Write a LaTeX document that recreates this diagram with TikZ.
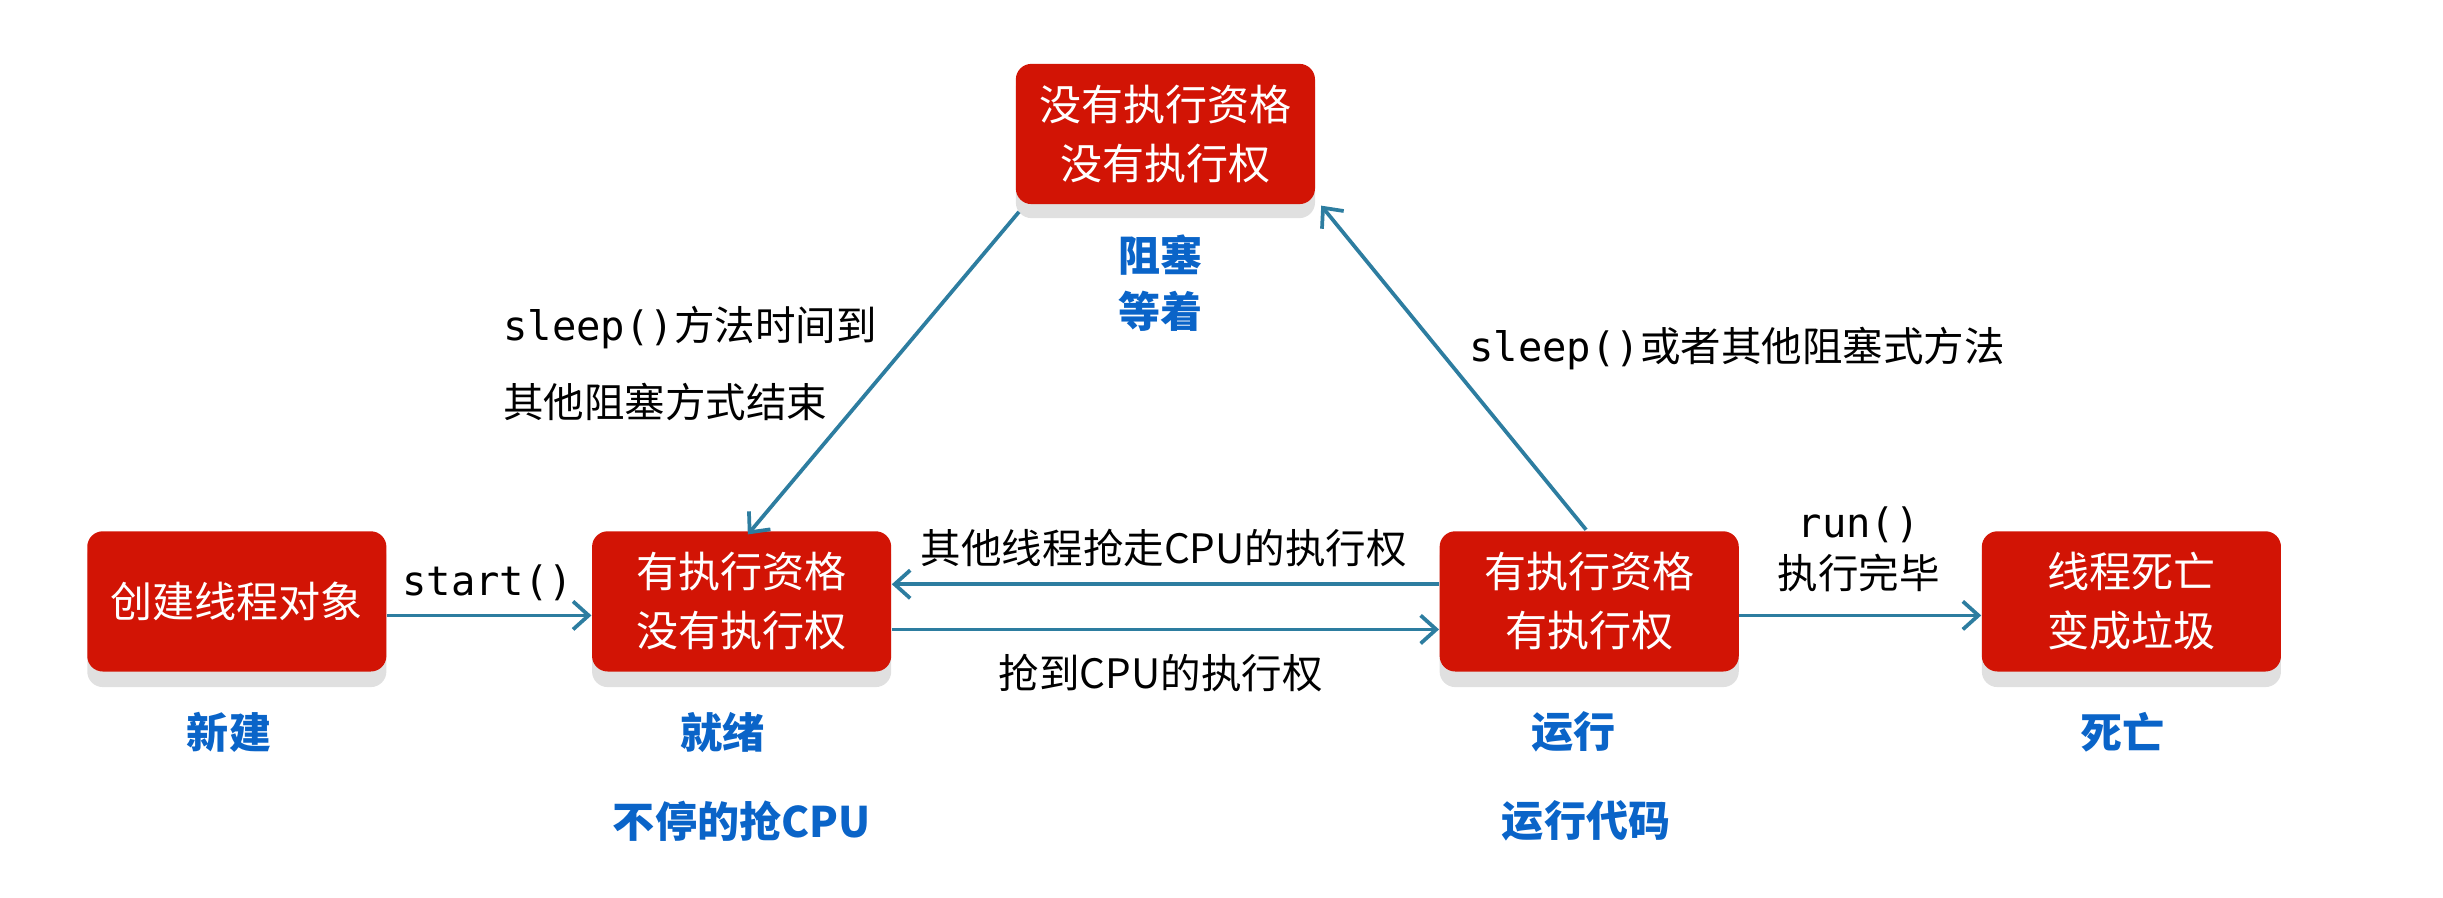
\documentclass[tikz,border=0pt]{standalone}
\usepackage{fontspec}
\newfontfamily\cjk{Noto Sans CJK SC}
\setmonofont{DejaVu Sans Mono}
\usetikzlibrary{arrows.meta}
\definecolor{boxred}{RGB}{210,20,5}
\definecolor{arr}{RGB}{45,125,160}
\definecolor{lblue}{RGB}{10,100,200}
\tikzset{
 st/.style={draw=none,fill=boxred,rounded corners=5pt,minimum width=96pt,minimum height=45pt,text=white,align=center,font=\cjk\fontsize{13.5}{19}\selectfont},
 sh/.style={fill=black!12,rounded corners=5pt},
 lb/.style={text=lblue,font=\cjk\bfseries\fontsize{13.5}{18}\selectfont,align=center},
 tx/.style={font=\cjk\fontsize{13}{15}\selectfont,align=left},
 ar/.style={draw=arr,line width=1.2pt,-{Straight Barb[length=5pt,width=9pt]}}
}
\begin{document}
\begin{tikzpicture}[x=0.5pt,y=-0.5pt]
\useasboundingbox (0,0) rectangle (1568,576);
\foreach \x/\y in {152/387,476/387,1020/387,1368/387,748/86}{\fill[sh] (\x-96,\y-40) rectangle (\x+96,\y+54);}
\node[st] (new) at (152,386) {创建线程对象};
\node[st] (ready) at (476,386) {有执行资格\\没有执行权};
\node[st] (run) at (1020,386) {有执行资格\\有执行权};
\node[st] (dead) at (1368,386) {线程死亡\\变成垃圾};
\node[st] (blk) at (748,86) {没有执行资格\\没有执行权};
\node[lb] (l1) at (147,470) {新建};
\node[lb] (l2) at (464,470) {就绪};
\node[lb] (l3) at (1010,470) {运行};
\node[lb] (l4) at (1362,470) {死亡};
\node[lb] (l5) at (476,527) {不停的抢CPU};
\node[lb] (l6) at (1018,527) {运行代码};
\node[lb] (l7) at (745,182) {阻塞\\等着};
\coordinate (b1) at (654,136); \coordinate (r1) at (480,343);
\coordinate (r2) at (1018,340); \coordinate (b2) at (848,132);
\draw[ar] (new.east|-0,395) -- (ready.west|-0,395);
\draw[ar] (ready.east|-0,404) -- (run.west|-0,404);
\draw[ar] (run.west|-0,375) -- (ready.east|-0,375);
\draw[ar] (run.east|-0,395) -- (dead.west|-0,395);
\draw[ar] (b1) -- (r1);
\draw[ar] (r2) -- (b2);
\node[tx] (t1) at (313,374) {\ttfamily start()};
\node[tx] (t2) at (745,432) {抢到CPU的执行权};
\node[tx] (t3) at (747,352) {其他线程抢走CPU的执行权};
\node[tx] (t4) at (1193,337) {\ttfamily run()};
\node[tx] (t5) at (1193,368) {执行完毕};
\node[tx,anchor=west] (t6) at (316,210) {{\ttfamily sleep()}方法时间到};
\node[tx,anchor=west] (t7) at (316,258) {其他阻塞方式结束};
\node[tx,anchor=west] (t8) at (936,224) {{\ttfamily sleep()}或者其他阻塞式方法};
\end{tikzpicture}
\end{document}
